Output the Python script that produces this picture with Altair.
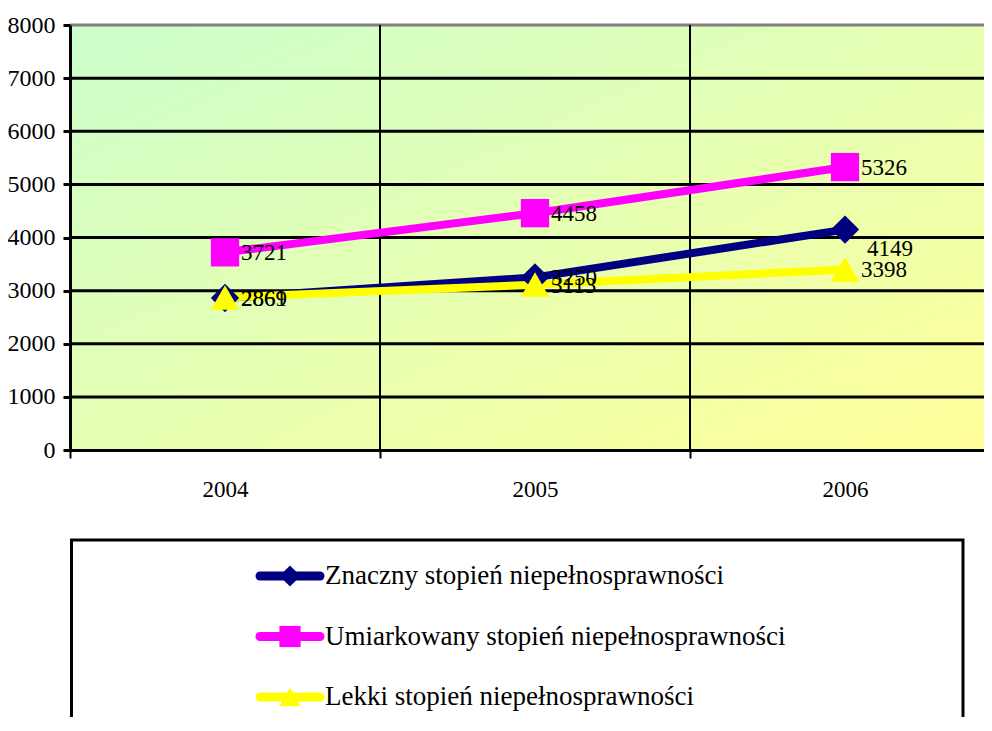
import altair as alt
import pandas as pd

years = [2004, 2005, 2006]
series = [
    "Znaczny stopień niepełnosprawności",
    "Umiarkowany stopień niepełnosprawności",
    "Lekki stopień niepełnosprawności",
]
znaczny = [2861, 3250, 4149]
umiarkowany = [3721, 4458, 5326]
lekki = [2869, 3113, 3398]
colors = ["#000080", "#FF00FF", "#FFFF00"]
shapes = ["diamond", "square", "triangle-up"]
y_ticks = [1000, 2000, 3000, 4000, 5000, 6000, 7000, 8000]
x_bounds = [2003.5, 2004.5, 2005.5]
x_inner_bounds = [2004.5, 2005.5]

W, H = 914, 425
BAND = 310
FONT = "'Liberation Serif', 'DejaVu Serif', serif"

rows = []
for k, (s, vals) in enumerate(zip(series, [znaczny, umiarkowany, lekki])):
    for yr, v in zip(years, vals):
        rows.append({"series": s, "year": yr, "value": v, "k": k})
df = pd.DataFrame(rows)

x_scale = alt.Scale(domain=[2003.5, 2003.5 + W / BAND], nice=False, zero=False)
y_scale = alt.Scale(domain=[0, 8000], nice=False, zero=True)

x_axis = alt.Axis(
    values=x_bounds,
    labelExpr="format(datum.value + 0.5, 'd')",
    labelOffset=BAND / 2,
    labelFlush=False,
    labelOverlap=False,
    grid=False,
    domainColor="black",
    domainWidth=3,
    tickColor="black",
    tickWidth=2,
    tickSize=8,
    labelFontSize=23,
    labelFont=FONT,
    labelColor="black",
    labelPadding=20,
    title=None,
    zindex=1,
)
y_axis = alt.Axis(
    values=[0] + y_ticks,
    format="d",
    grid=False,
    domainColor="black",
    domainWidth=3,
    tickColor="black",
    tickWidth=3,
    tickSize=7,
    labelFontSize=24,
    labelFont=FONT,
    labelColor="black",
    labelPadding=8,
    title=None,
    zindex=1,
)


def xe(field):
    return alt.X(field, type="quantitative", scale=x_scale, axis=x_axis)


def ye(field):
    return alt.Y(field, type="quantitative", scale=y_scale, axis=y_axis)


color_scale = alt.Scale(domain=series, range=colors)
shape_scale = alt.Scale(domain=series, range=shapes)

background = alt.Chart(alt.Data(values=[{}])).mark_rect(
    fill=alt.LinearGradient(
        gradient="linear",
        x1=0, y1=0, x2=1, y2=1,
        stops=[
            alt.GradientStop(offset=0, color="#ccffcc"),
            alt.GradientStop(offset=1, color="#ffff99"),
        ],
    )
).encode(x=alt.value(0), x2=alt.value(W), y=alt.value(0), y2=alt.value(H))

hgrid = alt.Chart(pd.DataFrame({"tick": y_ticks})).mark_rule(strokeWidth=3).encode(
    y=ye("tick"),
    color=alt.condition(alt.datum.tick == 8000, alt.value("#808080"), alt.value("black")),
)

vgrid = alt.Chart(pd.DataFrame({"b": x_inner_bounds})).mark_rule(
    strokeWidth=2, color="black"
).encode(x=xe("b"))

lines = alt.Chart(df).mark_line(strokeWidth=8).encode(
    x=xe("year"),
    y=ye("value"),
    color=alt.Color("series:N", scale=color_scale, legend=None),
    detail="series:N",
    order="year:Q",
)

points = alt.Chart(df).mark_point(filled=True, size=800, opacity=1).encode(
    x=xe("year"),
    y=ye("value"),
    color=alt.Color("series:N", scale=color_scale, legend=None),
    shape=alt.Shape("series:N", scale=shape_scale, legend=None),
    order="k:Q",
)

moved = "datum.k == 0 && datum.year == 2006"
labels = alt.Chart(df).transform_filter("!(" + moved + ")").mark_text(
    align="left", baseline="middle", dx=16, dy=1, fontSize=23, font=FONT, color="black"
).encode(x=xe("year"), y=ye("value"), text="value:Q")

labels_moved = alt.Chart(df).transform_filter(moved).mark_text(
    align="left", baseline="middle", dx=22, dy=19, fontSize=23, font=FONT, color="black"
).encode(x=xe("year"), y=ye("value"), text="value:Q")

main = alt.layer(background, hgrid, vgrid, lines, points, labels, labels_moved)

# manual legend below the plot
leg_df = pd.DataFrame({"series": series})
leg_y = alt.Y(
    "series:N",
    scale=alt.Scale(type="point", domain=series, range=[551, 672], padding=0),
    axis=None,
)

leg_box = alt.Chart(alt.Data(values=[{}])).mark_rect(
    fillOpacity=0, stroke="black", strokeWidth=3
).encode(x=alt.value(1.5), x2=alt.value(893), y=alt.value(515), y2=alt.value(820))

leg_line = alt.Chart(leg_df).mark_rule(strokeWidth=9, strokeCap="round").encode(
    x=alt.value(190),
    x2=alt.value(250),
    y=leg_y,
    color=alt.Color("series:N", scale=color_scale, legend=None),
)

leg_pt = alt.Chart(leg_df).mark_point(filled=True, size=450, opacity=1).encode(
    x=alt.value(220),
    y=leg_y,
    color=alt.Color("series:N", scale=color_scale, legend=None),
    shape=alt.Shape("series:N", scale=shape_scale, legend=None),
)

leg_txt = alt.Chart(leg_df).mark_text(
    align="left", baseline="middle", fontSize=27, font=FONT, color="black"
).encode(x=alt.value(255), y=leg_y, text="series:N")

legend = alt.layer(leg_box, leg_line, leg_pt, leg_txt)

chart = (
    alt.layer(main, legend)
    .resolve_scale(y="independent")
    .properties(
        width=W,
        height=H,
        autosize=alt.AutoSizeParams(type="none"),
        padding={"left": 62, "top": 17, "right": 0, "bottom": 267},
        background="white",
    )
    .configure_view(stroke=None)
)

chart.save("out.html", embed_options={"renderer": "svg", "actions": False})
